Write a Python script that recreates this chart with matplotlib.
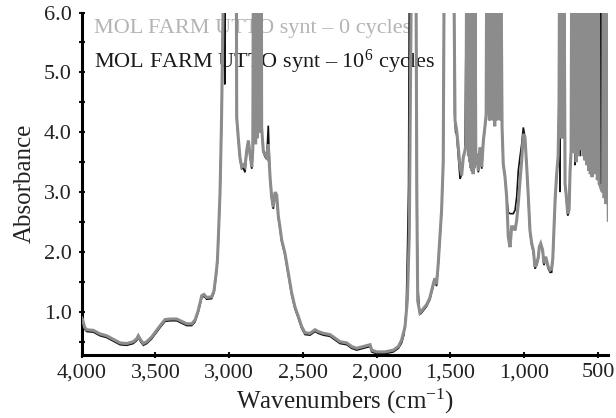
import matplotlib
matplotlib.use("Agg")
import matplotlib.pyplot as plt
from matplotlib.ticker import MultipleLocator, FixedLocator

plt.rcParams['font.family'] = ['Liberation Serif', 'DejaVu Serif']
plt.rcParams['mathtext.fontset'] = 'custom'
plt.rcParams['mathtext.rm'] = 'Liberation Serif'
plt.rcParams['mathtext.it'] = 'Liberation Serif:italic'

# ---- data: 0 cycles (gray) ----
wn_0 = [4000, 3993, 3980, 3966, 3921, 3876, 3831, 3786, 3740, 3695, 3650, 3627, 3616, 3600, 3582,
        3559, 3525, 3492, 3458, 3435, 3401, 3356, 3322, 3288, 3254, 3232, 3210, 3186, 3171, 3153,
        3119, 3103, 3089, 3080, 3074, 3062, 3052, 3044, 3036,
        2952, 2949, 2938, 2927, 2915, 2904, 2893, 2881, 2870, 2859, 2847, 2840,
        2836, 2831, 2826, 2821, 2816, 2811, 2806, 2801, 2796, 2791, 2786, 2782,
        2780, 2769, 2757, 2746, 2735, 2723, 2712, 2701, 2689, 2678, 2667, 2656, 2644, 2622, 2599,
        2576, 2554, 2531, 2508, 2486, 2452, 2418, 2396, 2362, 2317, 2283, 2249, 2203, 2170, 2136,
        2091, 2045, 2034, 2000, 1944, 1887, 1853, 1831, 1808, 1792, 1779, 1770, 1764, 1734, 1728,
        1722, 1707, 1700, 1684, 1662, 1640, 1617, 1606, 1594, 1583, 1572, 1560, 1549, 1542, 1478,
        1469, 1458, 1447, 1435, 1424, 1413, 1401, 1395,
        1390, 1386, 1382, 1378, 1374, 1370, 1366, 1362, 1358, 1354, 1350, 1346, 1342, 1338, 1334,
        1328, 1322, 1311, 1300, 1288, 1277, 1266, 1258,
        1254, 1248, 1242, 1236, 1230, 1224, 1218, 1212, 1206, 1200, 1194, 1188, 1182, 1176, 1170,
        1164, 1158,
        1150, 1142, 1130, 1119, 1108, 1096, 1085, 1074, 1062, 1051, 1040, 1028, 1017, 1006, 995,
        983, 972, 961, 949, 938, 927, 915, 904, 898, 888, 875, 866, 854, 848, 837, 825, 814, 806,
        798, 790, 780, 770, 764,
        760, 755, 750, 745, 740, 735, 730,
        723, 717, 705, 696, 689, 682,
        678, 672, 666, 660, 654, 648, 642, 636, 630, 624, 618, 612, 606, 600, 594, 588, 582, 576,
        570, 564, 558, 552, 546, 540, 534, 528, 522, 516, 510, 504, 498, 492,
        484, 476, 468,
        464, 458, 452, 446, 440, 430]
abs_0 = [0.90, 0.86, 0.74, 0.70, 0.69, 0.63, 0.60, 0.54, 0.48, 0.47, 0.50, 0.55, 0.60, 0.53, 0.47,
         0.50, 0.58, 0.69, 0.80, 0.87, 0.88, 0.88, 0.84, 0.80, 0.80, 0.86, 1.02, 1.27, 1.29, 1.24,
         1.25, 1.35, 1.63, 1.85, 2.2, 3.0, 4.2, 5.6, 7.0,
         7.0, 4.25, 3.9, 3.58, 3.42, 3.45, 3.42, 3.7, 3.86, 3.64, 3.42, 3.7,
         7.0, 3.9, 7.0, 3.8, 7.0, 3.9, 7.0, 4.0, 7.0, 4.0, 7.0, 7.0,
         4.08, 3.7, 3.62, 3.58, 3.8, 3.25, 2.92, 2.75, 3.0, 2.95, 2.6, 2.42, 2.2, 1.98, 1.64,
         1.31, 1.08, 0.92, 0.75, 0.65, 0.64, 0.70, 0.67, 0.64, 0.62, 0.56, 0.50, 0.48, 0.42, 0.39,
         0.42, 0.45, 0.36, 0.33, 0.33, 0.36, 0.42, 0.53, 0.75, 1.2, 2.3, 5.0, 7.0, 7.0, 3.0,
         1.18, 0.98, 1.0, 1.05, 1.12, 1.23, 1.46, 1.56, 1.46, 1.8, 2.24, 2.7, 3.5, 7.0, 7.0,
         4.2, 4.03, 3.75, 3.42, 3.28, 3.58, 3.7, 3.8,
         7.0, 3.8, 7.0, 3.6, 7.0, 3.5, 7.0, 3.4, 7.0, 3.35, 7.0, 3.3, 7.0, 3.4, 7.0,
         3.5, 3.64, 3.36, 3.75, 3.42, 3.86, 4.1, 4.3,
         7.0, 4.3, 7.0, 4.2, 7.0, 4.3, 7.0, 4.2, 7.0, 4.1, 7.0, 4.2, 7.0, 4.3, 7.0,
         4.2, 7.0,
         4.08, 3.47, 3.25, 2.92, 2.25, 2.08, 2.42, 2.42, 2.36, 2.53, 2.81, 3.2, 3.53, 3.97, 3.92,
         3.42, 2.92, 2.36, 2.14, 2.03, 1.75, 1.81, 1.92, 2.08, 2.14, 2.03, 1.81, 1.92, 1.86, 1.75,
         1.7, 1.72, 1.9, 2.4, 2.9, 3.3, 3.6, 4.5,
         7.0, 3.9, 7.0, 3.9, 7.0, 4.0, 7.0,
         3.14, 3.0, 2.64, 2.7, 3.36, 3.7,
         7.0, 3.7, 7.0, 3.65, 7.0, 3.5, 7.0, 3.6, 7.0, 3.75, 7.0, 3.7, 7.0, 3.6, 7.0, 3.53, 7.0,
         3.45, 7.0, 3.36, 7.0, 3.3, 7.0, 3.25, 7.0, 3.3, 7.0, 3.36, 7.0, 3.2, 7.0, 3.14,
         3.1, 3.03, 3.0,
         7.0, 2.9, 7.0, 2.8, 7.0, 2.53]

# ---- data: 10^6 cycles (black) ----
wn_1 = [4000, 3993, 3980, 3966, 3921, 3876, 3831, 3786, 3740, 3695, 3650, 3627, 3616, 3600, 3582,
        3559, 3525, 3492, 3458, 3435, 3401, 3356, 3322, 3288, 3254, 3232, 3210, 3186, 3171, 3153,
        3119, 3103, 3089, 3080, 3074, 3062, 3052, 3044, 3036, 3030, 3026,
        2952, 2949, 2938, 2927, 2915, 2904, 2893, 2881, 2870, 2859, 2847, 2840, 2836, 2796, 2791,
        2786, 2782, 2780, 2769, 2757, 2746, 2735, 2723, 2712, 2701, 2689, 2678, 2667, 2656, 2644,
        2622, 2599, 2576, 2554, 2531, 2508, 2486, 2452, 2418, 2396, 2362, 2317, 2283, 2249, 2203,
        2170, 2136, 2091, 2045, 2034, 2000, 1944, 1887, 1853, 1831, 1815, 1800, 1790, 1784, 1778,
        1734, 1728, 1720, 1712, 1707, 1700, 1684, 1662, 1640, 1617, 1606, 1594, 1583, 1572, 1560,
        1549, 1542, 1476, 1472, 1465, 1458, 1447, 1435, 1424, 1413, 1401, 1390, 1385, 1380, 1375,
        1370, 1365, 1360, 1345, 1334, 1328, 1322, 1311, 1300, 1288, 1277, 1266, 1258, 1254, 1240,
        1235, 1230, 1214, 1209, 1204, 1160, 1152, 1142, 1130, 1119, 1108, 1096, 1085, 1074, 1062,
        1051, 1040, 1028, 1017, 1006, 995, 983, 972, 961, 949, 938, 927, 915, 904, 898, 888, 875,
        866, 854, 848, 837, 825, 814, 806, 798, 790, 780, 770, 764, 760, 757, 754, 737, 734, 731,
        723, 717, 705, 696, 689, 682, 678, 670, 667, 664, 656, 650, 621, 615, 500, 492, 488, 484,
        480, 476, 472, 468, 464, 440, 432]
abs_1 = [0.87, 0.83, 0.71, 0.67, 0.66, 0.60, 0.57, 0.51, 0.45, 0.44, 0.47, 0.52, 0.57, 0.50, 0.44,
         0.47, 0.55, 0.66, 0.77, 0.84, 0.85, 0.85, 0.81, 0.77, 0.77, 0.83, 0.99, 1.24, 1.26, 1.21,
         1.22, 1.32, 1.60, 1.82, 2.17, 2.97, 4.17, 5.57, 7.0, 4.8, 7.0,
         7.0, 4.22, 3.87, 3.55, 3.39, 3.40, 3.33, 3.67, 3.83, 3.61, 3.39, 3.67, 7.0, 7.0, 4.2,
         7.0, 7.0, 4.05, 3.67, 3.59, 3.55, 4.11, 3.22, 2.89, 2.72, 2.97, 2.92, 2.57, 2.39, 2.17,
         1.95, 1.61, 1.28, 1.05, 0.89, 0.72, 0.62, 0.61, 0.67, 0.64, 0.61, 0.59, 0.53, 0.47, 0.45,
         0.39, 0.36, 0.39, 0.42, 0.33, 0.30, 0.30, 0.33, 0.39, 0.48, 0.62, 1.0, 2.2, 3.1, 7.0,
         7.0, 2.5, 1.4, 1.05, 0.96, 0.97, 1.02, 1.09, 1.20, 1.43, 1.53, 1.43, 1.77, 2.21, 2.67,
         3.47, 7.0, 7.0, 4.31, 4.0, 3.97, 3.6, 3.22, 3.3, 3.58, 3.7, 7.0, 4.4, 7.0, 4.2,
         7.0, 3.7, 7.0, 7.0, 7.0, 3.47, 3.61, 3.33, 3.72, 3.39, 3.83, 4.07, 4.27, 7.0, 7.0,
         4.2, 7.0, 7.0, 4.2, 7.0, 7.0, 4.2, 3.47, 3.25, 2.92, 2.66, 2.64, 2.64, 2.64, 2.7,
         2.92, 3.36, 3.6, 3.8, 4.08, 3.92, 3.45, 2.89, 2.33, 2.11, 2.0, 1.72, 1.78, 1.89, 2.05, 2.11, 2.0,
         1.78, 1.89, 1.83, 1.72, 1.66, 1.66, 1.87, 2.37, 2.87, 3.27, 3.57, 4.47, 7.0, 3.0, 7.0, 7.0, 3.9, 7.0,
         3.11, 2.97, 2.61, 2.67, 3.33, 3.67, 7.0, 7.0, 4.36, 7.0, 3.45, 7.0, 3.6, 7.0, 7.0, 3.14, 7.0, 3.12,
         7.0, 3.1, 7.0, 3.1, 7.0, 7.0, 2.53]

label_0 = "MOL FARM UTTO synt \u2013 0 cycles"
label_1 = "MOL FARM UTTO synt \u2013 10$^{6}$ cycles"
xticks = [4000, 3500, 3000, 2500, 2000, 1500, 1000, 500]
xticklabels = ["4,000", "3,500", "3,000", "2,500", "2,000", "1,500", "1,000", "500"]
yticks = [1.0, 2.0, 3.0, 4.0, 5.0, 6.0]
yticklabels = ["1.0", "2.0", "3.0", "4.0", "5.0", "6.0"]

fig = plt.figure(figsize=(6.16, 4.18), dpi=100)
ax = fig.add_axes([0.1326, 0.151, 0.8544, 0.819])

ax.plot(wn_1, abs_1, color='#111111', lw=1.2, zorder=2, solid_joinstyle='miter')
ax.plot(wn_0, abs_0, color='#8c8c8c', lw=2.2, zorder=3, solid_joinstyle='miter')

ax.set_xlim(4000, 432)
ax.set_ylim(0.28, 6.0)

ax.spines['top'].set_visible(False)
ax.spines['right'].set_visible(False)
ax.spines['left'].set_linewidth(2.2)
ax.spines['bottom'].set_linewidth(2.2)

ax.xaxis.set_major_locator(FixedLocator(xticks))
ax.set_xticklabels(xticklabels, fontsize=16)
ax.yaxis.set_major_locator(FixedLocator(yticks))
ax.set_yticklabels(yticklabels, fontsize=16)
ax.yaxis.set_minor_locator(MultipleLocator(0.5))
ax.tick_params(axis='both', which='both', direction='inout', length=4, width=1.5,
               colors='#111111', labelcolor='#222222')
ax.tick_params(axis='x', pad=4)
ax.tick_params(axis='y', pad=5)

ax.set_xlabel("Wavenumbers (cm$^{-1}$)", fontsize=18, color='#222222', labelpad=3)
ax.set_ylabel("Absorbance", fontsize=18, color='#222222', labelpad=6)

ax.text(0.024, 0.940, label_0, transform=ax.transAxes, fontsize=16, color='#b4b4b4',
        va='baseline', ha='left', zorder=1)
ax.text(0.024, 0.838, label_1, transform=ax.transAxes, fontsize=16, color='#1a1a1a',
        va='baseline', ha='left', zorder=1)

fig.savefig("out.png", dpi=100)
